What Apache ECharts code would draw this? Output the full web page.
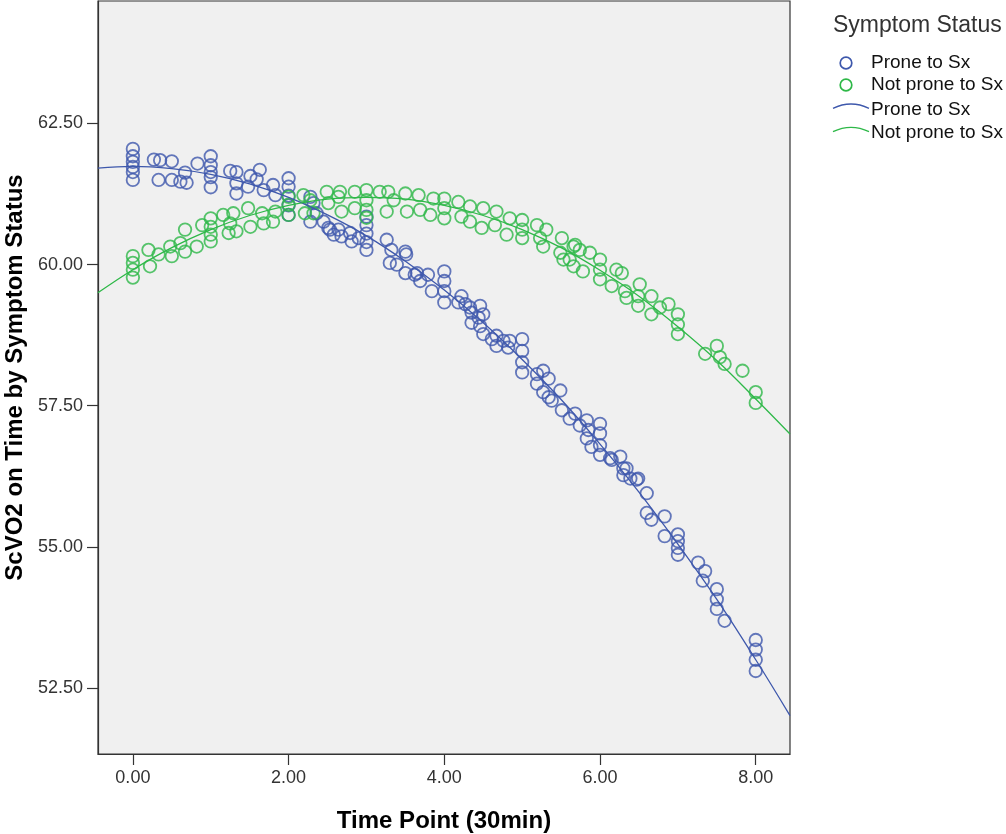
<!DOCTYPE html>
<html>
<head>
<meta charset="utf-8">
<title>ScVO2 on Time by Symptom Status</title>
<script src="https://cdn.jsdelivr.net/npm/echarts@6/dist/echarts.min.js"></script>
<style>
  html, body { margin: 0; padding: 0; background: #ffffff; }
  #chart { width: 1006px; height: 834px; }
</style>
</head>
<body>
<div id="chart"></div>
<script>
// Observed ScVO2 readings [time point, ScVO2] for patients prone to symptoms
const pronePoints = [
  [0, 62.05], [0, 61.92], [0, 61.82], [0, 61.73], [0, 61.64], [0, 61.50],
  [0.27, 61.86], [0.35, 61.85], [0.50, 61.83], [0.33, 61.50], [0.50, 61.50], [0.61, 61.47],
  [0.67, 61.63], [0.69, 61.45], [0.83, 61.79],
  [1, 61.92], [1, 61.76], [1, 61.64], [1, 61.55], [1, 61.37],
  [1.25, 61.66], [1.33, 61.64], [1.51, 61.57], [1.63, 61.68], [1.33, 61.44], [1.33, 61.26],
  [1.48, 61.38], [1.59, 61.51], [1.68, 61.32], [1.80, 61.41], [1.83, 61.23],
  [2, 61.53], [2, 61.38], [2, 61.22], [2, 61.05], [2, 60.88],
  [2.28, 61.20], [2.32, 61.09], [2.36, 60.91], [2.45, 60.76], [2.51, 60.65], [2.58, 60.53],
  [2.64, 60.62], [2.68, 60.50], [2.79, 60.56], [2.81, 60.41], [2.90, 60.47], [2.28, 60.76], [2.53, 60.62],
  [3, 60.85], [3, 60.70], [3, 60.55], [3, 60.40], [3, 60.26],
  [3.26, 60.44], [3.32, 60.26], [3.30, 60.03], [3.50, 60.23], [3.39, 60.00], [3.50, 59.85],
  [3.65, 59.85], [3.69, 59.71], [3.79, 59.82], [3.84, 59.53], [3.62, 59.82], [3.51, 60.18],
  [4, 59.88], [4, 59.71], [4, 59.53], [4, 59.33],
  [4.18, 59.33], [4.22, 59.44], [4.27, 59.30], [4.35, 59.15], [4.46, 59.27], [4.50, 59.12],
  [4.46, 58.91], [4.35, 58.97], [4.50, 58.77], [4.67, 58.74], [4.84, 58.65], [4.33, 59.24],
  [4.44, 59.06], [4.61, 58.68], [4.67, 58.56], [4.76, 58.65], [4.82, 58.53],
  [5, 58.68], [5, 58.47], [5, 58.27], [5, 58.09],
  [5.19, 58.06], [5.27, 58.12], [5.34, 57.98], [5.19, 57.89], [5.27, 57.74], [5.34, 57.65],
  [5.49, 57.77], [5.38, 57.59], [5.51, 57.42], [5.61, 57.27], [5.68, 57.36], [5.74, 57.15],
  [5.83, 57.24], [5.85, 57.07], [5.83, 56.92], [5.89, 56.77],
  [6, 57.18], [6, 57.01], [6, 56.80], [6, 56.63],
  [6.13, 56.57], [6.26, 56.60], [6.30, 56.39], [6.39, 56.21], [6.49, 56.21], [6.15, 56.54],
  [6.34, 56.39], [6.30, 56.27], [6.47, 56.19], [6.60, 55.95], [6.60, 55.60], [6.66, 55.48],
  [6.83, 55.54], [6.83, 55.19],
  [7, 55.22], [7, 55.10], [7, 54.98], [7, 54.86],
  [7.26, 54.72], [7.35, 54.57], [7.32, 54.40], [7.50, 54.25], [7.50, 54.07], [7.50, 53.90], [7.60, 53.69],
  [8, 53.35], [8, 53.18], [8, 53.00], [8, 52.80]
];

// Observed ScVO2 readings [time point, ScVO2] for patients not prone to symptoms
const notPronePoints = [
  [0, 60.15], [0, 60.03], [0, 59.91], [0, 59.77],
  [0.20, 60.26], [0.22, 59.97], [0.33, 60.18], [0.48, 60.32], [0.50, 60.15], [0.61, 60.38],
  [0.67, 60.62], [0.67, 60.23], [0.82, 60.32], [0.89, 60.70],
  [1, 60.82], [1, 60.67], [1, 60.53], [1, 60.41],
  [1.16, 60.88], [1.25, 60.73], [1.29, 60.91], [1.33, 60.59], [1.23, 60.56], [1.48, 61.00],
  [1.51, 60.67], [1.66, 60.91], [1.68, 60.73], [1.80, 60.76], [1.83, 60.94],
  [2, 61.20], [2, 61.06], [2, 60.88],
  [2.19, 61.23], [2.28, 61.14], [2.21, 60.91], [2.49, 61.29], [2.51, 61.09], [2.64, 61.20],
  [2.32, 60.91], [2.66, 61.29], [2.68, 60.94], [2.85, 61.29], [2.85, 61.00],
  [3, 61.32], [3, 61.14], [3, 60.97], [3, 60.83],
  [3.17, 61.29], [3.28, 61.29], [3.26, 60.94], [3.35, 61.14], [3.50, 61.26], [3.52, 60.94],
  [3.67, 61.23], [3.69, 60.97], [3.86, 61.17], [3.82, 60.88],
  [4, 61.17], [4, 61.00], [4, 60.82],
  [4.18, 61.11], [4.22, 60.85], [4.33, 61.03], [4.33, 60.76], [4.50, 61.00], [4.48, 60.65],
  [4.67, 60.94], [4.65, 60.70], [4.84, 60.82], [4.80, 60.53],
  [5, 60.79], [5, 60.62], [5, 60.47],
  [5.19, 60.70], [5.31, 60.62], [5.27, 60.32], [5.23, 60.47], [5.51, 60.47], [5.49, 60.21],
  [5.66, 60.32], [5.68, 60.35], [5.74, 60.26], [5.87, 60.21], [5.61, 60.09], [5.78, 59.88],
  [5.66, 59.97], [5.53, 60.09],
  [6, 60.09], [6, 59.91], [6, 59.74],
  [6.21, 59.91], [6.28, 59.85], [6.15, 59.62], [6.32, 59.53], [6.34, 59.41], [6.51, 59.65],
  [6.49, 59.44], [6.49, 59.27], [6.66, 59.44], [6.66, 59.12], [6.77, 59.24], [6.88, 59.30],
  [7, 59.12], [7, 58.94], [7, 58.77],
  [7.35, 58.42], [7.50, 58.56], [7.54, 58.36], [7.60, 58.24], [7.83, 58.12],
  [8, 57.74], [8, 57.55]
];

// Fitted curves, sampled along the time axis
const fitTimes    = [-0.45, 0, 0.5, 1, 1.5, 2, 2.5, 3, 3.5, 4, 4.5, 5, 5.5, 6, 6.5, 7, 7.5, 8, 8.44];
const proneFit    = [61.71, 61.74, 61.70, 61.60, 61.43, 61.19, 60.88, 60.51, 60.06, 59.55, 58.97, 58.32, 57.61, 56.82, 55.97, 55.05, 54.07, 53.00, 52.01];
const notProneFit = [59.50, 59.91, 60.30, 60.62, 60.87, 61.05, 61.16, 61.19, 61.16, 61.05, 60.87, 60.62, 60.30, 59.90, 59.44, 58.90, 58.30, 57.62, 57.00];

// Axis ticks
const timeTicks  = [0, 2, 4, 6, 8];
const scvo2Ticks = [52.5, 55, 57.5, 60, 62.5];

const seriesNames = ['Prone to Sx', 'Not prone to Sx'];
const legendTitle = 'Symptom Status';

const BLUE = '#3e58ac';
const GREEN = '#2eb848';
const FONT = '"Liberation Sans", Arial, sans-serif';

const chart = echarts.init(document.getElementById('chart'), null, { renderer: 'canvas' });

const pairs = (xs, ys) => xs.map((x, i) => [x, ys[i]]);

const scatterStyle = color => ({
  color: 'transparent',
  borderColor: color,
  borderWidth: 1.8,
  opacity: 0.8
});

// Legend drawn as graphics so circle and curve entries can share labels
const legendX = 833;
const textX = 871;
const legendGraphics = [
  { type: 'text', left: legendX, top: 14,
    style: { text: legendTitle, font: '23px ' + FONT, fill: '#333' } },
  { type: 'circle', shape: { cx: 846, cy: 63, r: 5.8 },
    style: { fill: 'none', stroke: BLUE, lineWidth: 1.7 } },
  { type: 'text', x: textX, y: 63,
    style: { text: seriesNames[0], font: '19px ' + FONT, fill: '#111', verticalAlign: 'middle' } },
  { type: 'circle', shape: { cx: 846, cy: 85, r: 5.8 },
    style: { fill: 'none', stroke: GREEN, lineWidth: 1.7 } },
  { type: 'text', x: textX, y: 85,
    style: { text: seriesNames[1], font: '19px ' + FONT, fill: '#111', verticalAlign: 'middle' } },
  { type: 'bezierCurve', shape: { x1: 833, y1: 108.3, cpx1: 851, cpy1: 99.7, x2: 869, y2: 108.3 },
    style: { fill: 'none', stroke: BLUE, lineWidth: 1.3 } },
  { type: 'text', x: textX, y: 110,
    style: { text: seriesNames[0], font: '19px ' + FONT, fill: '#111', verticalAlign: 'middle' } },
  { type: 'bezierCurve', shape: { x1: 833, y1: 131.7, cpx1: 851, cpy1: 123.1, x2: 869, y2: 131.7 },
    style: { fill: 'none', stroke: GREEN, lineWidth: 1.3 } },
  { type: 'text', x: textX, y: 133,
    style: { text: seriesNames[1], font: '19px ' + FONT, fill: '#111', verticalAlign: 'middle' } }
];

const option = {
  animation: false,
  backgroundColor: '#ffffff',
  textStyle: { fontFamily: FONT },
  grid: {
    left: 98, right: 216, top: 1, bottom: 80,
    containLabel: false,
    outerBoundsMode: 'none',
    show: true,
    backgroundColor: '#f0f0f0',
    borderColor: '#333',
    borderWidth: 1.2
  },
  xAxis: {
    type: 'value',
    min: -0.448,
    max: 8.44,
    name: 'Time Point (30min)',
    nameLocation: 'middle',
    nameGap: 55,
    nameTextStyle: { fontSize: 24, fontWeight: 'bold', color: '#000', fontFamily: FONT },
    axisLine: { show: true, onZero: false, lineStyle: { color: '#333', width: 1.2 } },
    axisTick: { show: true, inside: false, length: 11, customValues: timeTicks, lineStyle: { color: '#333', width: 1.2 } },
    axisLabel: { customValues: timeTicks, margin: 15, fontSize: 18, color: '#333', fontFamily: FONT,
      formatter: v => v.toFixed(2) },
    splitLine: { show: false }
  },
  yAxis: {
    type: 'value',
    min: 51.33,
    max: 64.67,
    name: 'ScVO2 on Time by Symptom Status',
    nameLocation: 'middle',
    nameGap: 61,
    nameTextStyle: { fontSize: 24, fontWeight: 'bold', color: '#000', fontFamily: FONT },
    axisLine: { show: true, onZero: false, lineStyle: { color: '#333', width: 1.2 } },
    axisTick: { show: true, inside: false, length: 11, customValues: scvo2Ticks, lineStyle: { color: '#333', width: 1.2 } },
    axisLabel: { customValues: scvo2Ticks, margin: 15, fontSize: 18, color: '#333', fontFamily: FONT,
      formatter: v => v.toFixed(2) },
    splitLine: { show: false }
  },
  graphic: legendGraphics,
  series: [
    {
      name: seriesNames[0],
      type: 'scatter',
      data: pronePoints,
      symbol: 'circle',
      symbolSize: 12.5,
      itemStyle: scatterStyle(BLUE),
      z: 2
    },
    {
      name: seriesNames[1],
      type: 'scatter',
      data: notPronePoints,
      symbol: 'circle',
      symbolSize: 12.5,
      itemStyle: scatterStyle(GREEN),
      z: 2
    },
    {
      name: seriesNames[0] + ' fit',
      type: 'line',
      data: pairs(fitTimes, proneFit),
      smooth: 0.4,
      showSymbol: false,
      symbol: 'none',
      lineStyle: { color: BLUE, width: 1.3 },
      z: 3
    },
    {
      name: seriesNames[1] + ' fit',
      type: 'line',
      data: pairs(fitTimes, notProneFit),
      smooth: 0.4,
      showSymbol: false,
      symbol: 'none',
      lineStyle: { color: GREEN, width: 1.3 },
      z: 3
    }
  ]
};

chart.setOption(option);
</script>
</body>
</html>
